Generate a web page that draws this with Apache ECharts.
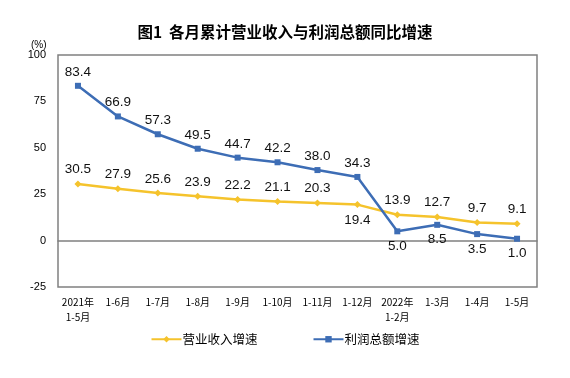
<!DOCTYPE html>
<html>
<head>
<meta charset="utf-8">
<script src="https://cdn.jsdelivr.net/npm/echarts@6/dist/echarts.min.js"></script>
<style>html,body{margin:0;padding:0;background:#fff}#c{width:570px;height:378px}</style>
</head>
<body>
<div id="c"></div>
<script>
const categories = ['2021年\n1-5月','1-6月','1-7月','1-8月','1-9月','1-10月','1-11月','1-12月','2022年\n1-2月','1-3月','1-4月','1-5月'];
const revenue = [30.5, 27.9, 25.6, 23.9, 22.2, 21.1, 20.3, 19.4, 13.9, 12.7, 9.7, 9.1];
const profit = [83.4, 66.9, 57.3, 49.5, 44.7, 42.2, 38.0, 34.3, 5.0, 8.5, 3.5, 1.0];
const revenueBelow = [7];
const profitBelow = [8, 9, 10, 11];
const yTicks = [-25, 0, 25, 50, 75, 100];

const font = '"Liberation Sans", Arial, "Noto Sans CJK SC", sans-serif';
const cjk = '"Noto Sans CJK SC", sans-serif';
const chart = echarts.init(document.getElementById('c'));
function mkData(vals, below) {
  return vals.map((v, i) => below.includes(i)
    ? {value: v, label: {position: 'bottom', distance: 5}}
    : v);
}
const fmt = p => Number(p.value).toFixed(1);
chart.setOption({
  animation: false,
  title: {
    text: '图1  各月累计营业收入与利润总额同比增速',
    left: 'center', top: 19,
    textStyle: {fontSize: 15.5, fontWeight: 'bold', color: '#000', fontFamily: cjk}
  },
  graphic: [{
    type: 'text', left: 31, top: 40,
    style: {text: '(%)', fontSize: 10, fill: '#000', fontFamily: font}
  }],
  legend: {
    top: 328, left: 'center', itemGap: 55, itemWidth: 30, itemHeight: 8,
    textStyle: {fontSize: 12.5, color: '#000', fontFamily: cjk, padding: [0, 0, 0, -4]},
    data: ['营业收入增速', '利润总额增速']
  },
  grid: {left: 58, right: 33, top: 55, bottom: 91, show: true, borderColor: '#808080', borderWidth: 1.5},
  xAxis: [{
    type: 'category', data: categories, position: 'bottom',
    axisLine: {onZero: true, lineStyle: {color: '#808080', width: 1.5}},
    axisTick: {inside: true, length: 4, lineStyle: {color: '#606060'}},
    axisLabel: {show: false}
  }, {
    type: 'category', data: categories, position: 'bottom',
    axisLine: {show: false, onZero: false}, axisTick: {show: false},
    axisLabel: {fontSize: 10, color: '#000', lineHeight: 15, margin: 8, interval: 0, fontFamily: cjk}
  }],
  yAxis: {
    type: 'value', min: -25, max: 100, interval: 25,
    axisLine: {show: false}, axisTick: {show: false}, splitLine: {show: false},
    axisLabel: {fontSize: 11, color: '#000', margin: 12, fontFamily: font}
  },
  series: [{
    name: '营业收入增速', type: 'line', data: mkData(revenue, revenueBelow),
    symbol: 'diamond', symbolSize: 7,
    lineStyle: {color: '#F5C32C', width: 2.5}, itemStyle: {color: '#F5C32C'},
    label: {show: true, position: 'top', distance: 4, fontSize: 13.5, color: '#111', fontFamily: font, formatter: fmt}
  }, {
    name: '利润总额增速', type: 'line', data: mkData(profit, profitBelow),
    symbol: 'rect', symbolSize: 6,
    lineStyle: {color: '#3D6DB5', width: 2.5}, itemStyle: {color: '#3D6DB5'},
    label: {show: true, position: 'top', distance: 4, fontSize: 13.5, color: '#111', fontFamily: font, formatter: fmt}
  }]
});
</script>
</body>
</html>
